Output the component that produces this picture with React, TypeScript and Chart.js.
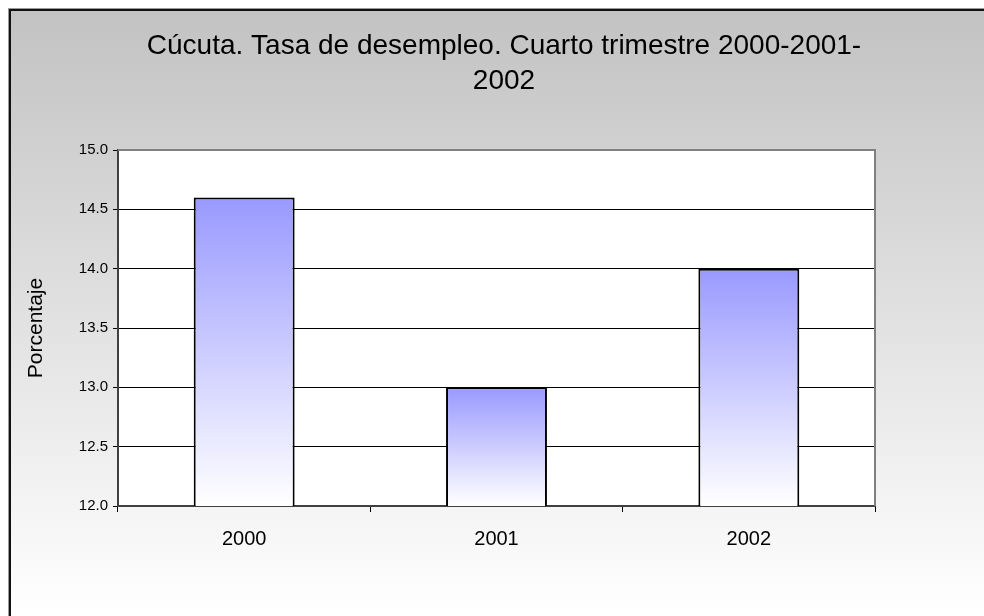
import React, { useEffect, useRef } from "react";
import { Chart, registerables } from "chart.js";

Chart.register(...registerables);

const categories = ["2000", "2001", "2002"];
const values = [14.6, 13.0, 14.0];
const titleLines = ["Cúcuta. Tasa de desempleo. Cuarto trimestre 2000-2001-", "2002"];
const yAxisTitle = "Porcentaje";
const yMin = 12;
const yMax = 15;
const yStep = 0.5;

const FONT = "'Liberation Sans', Arial, sans-serif";

const backgroundPlugin = {
  id: "bgPlugin",
  beforeDraw(chart: any) {
    const { ctx, width, height, chartArea } = chart;
    ctx.save();
    const g = ctx.createLinearGradient(0, 0, 0, height);
    g.addColorStop(0, "#c2c2c2");
    g.addColorStop(1, "#ffffff");
    ctx.fillStyle = g;
    ctx.fillRect(0, 0, width, height);
    ctx.fillStyle = "#9a9a9a";
    ctx.fillRect(0, 0, width, 1);
    ctx.fillRect(0, 0, 1, height);
    ctx.fillStyle = "#111111";
    ctx.fillRect(1, 1, width, 2);
    ctx.fillRect(1, 1, 2, height);
    if (chartArea) {
      ctx.fillStyle = "#ffffff";
      ctx.fillRect(chartArea.left, chartArea.top, chartArea.right - chartArea.left, chartArea.bottom - chartArea.top);
    }
    ctx.restore();
  },
  afterDraw(chart: any) {
    const { ctx, chartArea } = chart;
    if (!chartArea) return;
    ctx.save();
    ctx.strokeStyle = "#808080";
    ctx.lineWidth = 2;
    ctx.beginPath();
    ctx.moveTo(chartArea.left, chartArea.top);
    ctx.lineTo(chartArea.right, chartArea.top);
    ctx.lineTo(chartArea.right, chartArea.bottom);
    ctx.stroke();
    ctx.restore();
  },
};

export default function App() {
  const ref = useRef<HTMLCanvasElement | null>(null);
  useEffect(() => {
    if (!ref.current) return;
    const chart = new Chart(ref.current, {
      type: "bar",
      data: {
        labels: categories,
        datasets: [
          {
            data: values,
            backgroundColor: (c: any) => {
              const ch = c.chart;
              const area = ch.chartArea;
              if (!area || c.raw == null) return "#9999ff";
              const top = ch.scales.y.getPixelForValue(c.raw);
              const g = ch.ctx.createLinearGradient(0, top, 0, area.bottom);
              g.addColorStop(0, "#9999ff");
              g.addColorStop(1, "#ffffff");
              return g;
            },
            borderColor: "#000000",
            borderWidth: 2,
            borderSkipped: false,
            barPercentage: 0.4,
            categoryPercentage: 1,
          },
        ],
      },
      options: {
        responsive: false,
        animation: false,
        layout: { padding: { left: 16, right: 0, top: 0, bottom: 0 } },
        plugins: {
          legend: { display: false },
          tooltip: { enabled: false },
          title: {
            display: true,
            text: titleLines,
            color: "#000000",
            font: { family: FONT, size: 28, weight: "normal", lineHeight: 1.25 },
            padding: { top: 21, bottom: 51 },
          },
        },
        scales: {
          x: {
            grid: {
              offset: true,
              drawOnChartArea: false,
              drawTicks: true,
              tickLength: 6,
              color: "#000000",
            },
            border: { color: "#404040", width: 2 },
            ticks: {
              color: "#000000",
              font: { family: FONT, size: 20 },
              padding: 15,
            },
            afterFit: (s: any) => {
              s.height = 110;
            },
          },
          y: {
            min: yMin,
            max: yMax,
            grid: { color: "#000000", lineWidth: 1, tickLength: 5, drawTicks: true },
            border: { color: "#404040", width: 2 },
            ticks: {
              stepSize: yStep,
              color: "#000000",
              font: { family: FONT, size: 15 },
              padding: 5,
              callback: (v: any) => Number(v).toFixed(1),
            },
            title: {
              display: true,
              text: yAxisTitle,
              color: "#000000",
              font: { family: FONT, size: 21 },
              padding: { top: 0, bottom: 0 },
            },
            afterFit: (s: any) => {
              s.width = 94;
            },
          },
          yRight: {
            position: "right",
            display: true,
            grid: { display: false, drawTicks: false },
            border: { display: false },
            ticks: { display: false },
            afterFit: (s: any) => {
              s.width = 109;
            },
          },
        },
      },
      plugins: [backgroundPlugin],
    });
    return () => chart.destroy();
  }, []);
  return (
    <div style={{ position: "absolute", left: 8, top: 8, width: 976, height: 608 }}>
      <canvas ref={ref} width={976} height={608} style={{ display: "block" }} />
    </div>
  );
}
